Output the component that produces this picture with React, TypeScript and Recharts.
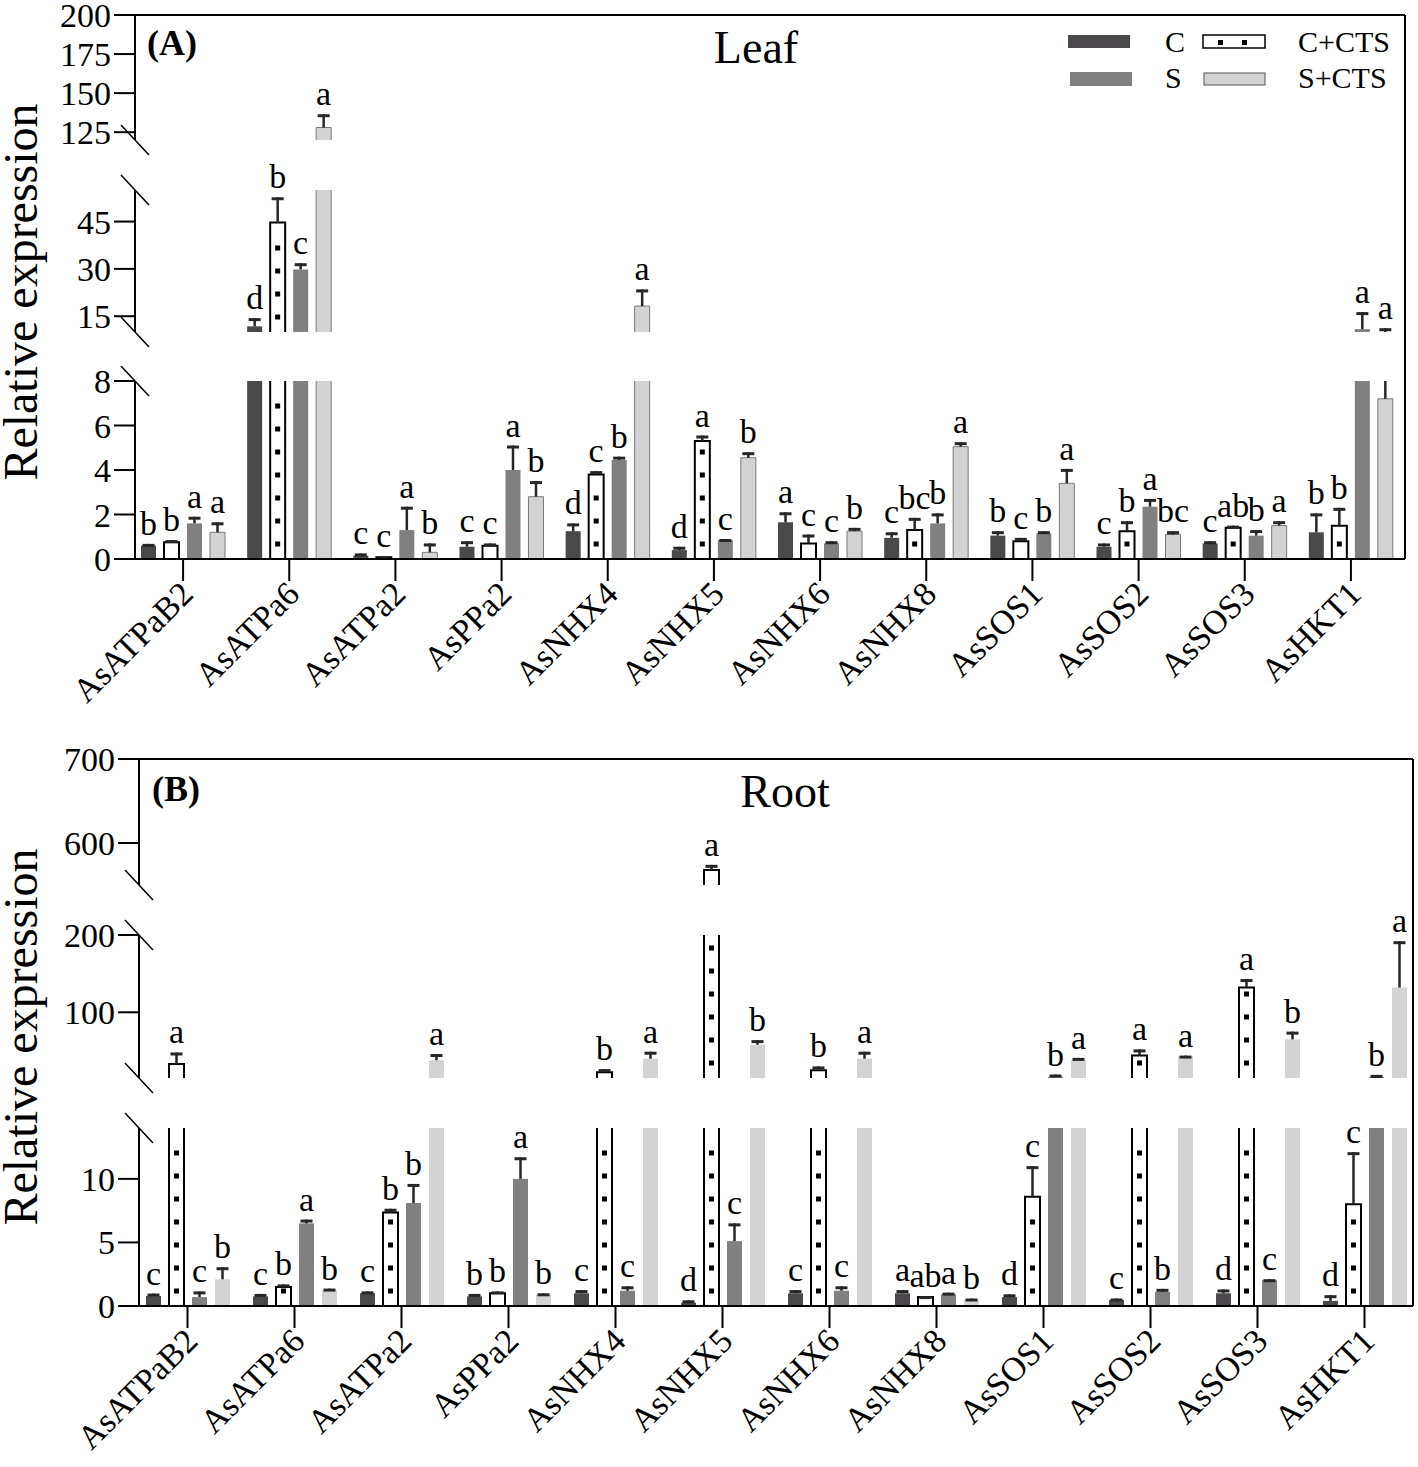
import React from 'react';
import { BarChart, Bar, XAxis, YAxis, LabelList, Legend } from 'recharts';

const W = 1418;
const H = 1467;
const FONT = '"Liberation Serif", "Times New Roman", serif';

// ---- data ----
const genes = ['AsATPaB2', 'AsATPa6', 'AsATPa2', 'AsPPa2', 'AsNHX4', 'AsNHX5', 'AsNHX6', 'AsNHX8', 'AsSOS1', 'AsSOS2', 'AsSOS3', 'AsHKT1'];

// Leaf
const leafC = [0.6, 11.8, 0.15, 0.55, 1.25, 0.4, 1.65, 0.95, 1.05, 0.55, 0.7, 1.2];
const leafCErr = [0.08, 2.6, 0.1, 0.25, 0.35, 0.15, 0.45, 0.25, 0.2, 0.15, 0.1, 0.85];
const leafCSig = ['b', 'd', 'c', 'c', 'd', 'd', 'a', 'c', 'b', 'c', 'c', 'b'];
const leafCC = [0.75, 44.7, 0.08, 0.6, 3.8, 5.3, 0.7, 1.3, 0.8, 1.25, 1.4, 1.5];
const leafCCErr = [0.1, 8, 0.05, 0.1, 0.15, 0.25, 0.4, 0.55, 0.15, 0.45, 0.1, 0.8];
const leafCCSig = ['b', 'b', 'c', 'c', 'c', 'a', 'c', 'bc', 'c', 'b', 'ab', 'b'];
const leafS = [1.6, 29.8, 1.3, 4.0, 4.45, 0.85, 0.7, 1.6, 1.15, 2.35, 1.05, 10.9];
const leafSErr = [0.3, 2, 1.05, 1.1, 0.15, 0.05, 0.1, 0.45, 0.1, 0.35, 0.25, 5.4];
const leafSSig = ['a', 'c', 'a', 'a', 'b', 'c', 'c', 'b', 'b', 'a', 'b', 'a'];
const leafSC = [1.2, 128, 0.3, 2.8, 18.2, 4.55, 1.25, 5.05, 3.4, 1.1, 1.5, 7.2];
const leafSCErr = [0.45, 8.5, 0.4, 0.7, 5.3, 0.25, 0.15, 0.2, 0.65, 0.15, 0.2, 4.0];
const leafSCSig = ['a', 'a', 'b', 'b', 'a', 'b', 'b', 'a', 'a', 'bc', 'a', 'a'];

// Root
const rootC = [0.78, 0.75, 1.0, 0.75, 1.0, 0.25, 1.0, 1.0, 0.7, 0.47, 1.0, 0.4];
const rootCErr = [0.2, 0.2, 0.15, 0.2, 0.25, 0.2, 0.25, 0.25, 0.22, 0.12, 0.3, 0.45];
const rootCSig = ['c', 'c', 'c', 'b', 'c', 'd', 'c', 'a', 'd', 'c', 'd', 'd'];
const rootCC = [33, 1.5, 7.35, 1.0, 22.5, 568, 25, 0.7, 8.6, 44, 132, 8.0];
const rootCCErr = [15, 0.2, 0.3, 0.15, 4, 6, 5, 0.08, 2.4, 8, 11, 4.1];
const rootCCSig = ['a', 'b', 'b', 'b', 'b', 'a', 'b', 'ab', 'c', 'a', 'a', 'c'];
const rootS = [0.7, 6.5, 8.1, 10.0, 1.2, 5.1, 1.2, 0.93, 16.5, 1.1, 2.03, 16.5];
const rootSErr = [0.45, 0.3, 1.5, 1.7, 0.35, 1.4, 0.35, 0.12, 3, 0.25, 0.08, 2.5];
const rootSSig = ['c', 'a', 'b', 'a', 'c', 'c', 'c', 'a', 'b', 'b', 'c', 'b'];
const rootSC = [2.1, 1.25, 38, 0.9, 40, 58, 40, 0.47, 38, 43, 65, 132];
const rootSCErr = [0.95, 0.12, 8, 0.1, 9, 6, 9, 0.12, 3, 1, 10, 60];
const rootSCSig = ['b', 'b', 'a', 'b', 'a', 'b', 'a', 'b', 'a', 'a', 'b', 'a'];

type Series = { key: string; values: number[]; errors: number[]; sig: string[] };

const leafSeries: Series[] = [
  { key: 'c', values: leafC, errors: leafCErr, sig: leafCSig },
  { key: 'cc', values: leafCC, errors: leafCCErr, sig: leafCCSig },
  { key: 's', values: leafS, errors: leafSErr, sig: leafSSig },
  { key: 'sc', values: leafSC, errors: leafSCErr, sig: leafSCSig },
];
const rootSeries: Series[] = [
  { key: 'c', values: rootC, errors: rootCErr, sig: rootCSig },
  { key: 'cc', values: rootCC, errors: rootCCErr, sig: rootCCSig },
  { key: 's', values: rootS, errors: rootSErr, sig: rootSSig },
  { key: 'sc', values: rootSC, errors: rootSCErr, sig: rootSCSig },
];

// ---- layout / style ----
const COLORS: Record<string, string> = { c: '#4a484b', cc: '#ffffff', s: '#808080', sc: '#d3d3d3' };
const ERR = '#262626';

type Seg = { lo: number; hi: number; top: number; bottom: number; ticks: number[] };
type Panel = {
  series: Series[];
  plotLeft: number;
  plotRight: number;
  pad: { left: number; right: number };
  scStroke?: string;
  segments: Seg[];
};

const leafPanel: Panel = {
  series: leafSeries,
  plotLeft: 135,
  plotRight: 1405,
  pad: { left: -5, right: 1 },
  scStroke: '#7a7a7a',
  segments: [
    { lo: 0, hi: 8, top: 381, bottom: 559, ticks: [0, 2, 4, 6, 8] },
    { lo: 10, hi: 55, top: 190, bottom: 332, ticks: [15, 30, 45] },
    { lo: 120, hi: 200, top: 15, bottom: 140, ticks: [125, 150, 175, 200] },
  ],
};

const rootPanel: Panel = {
  series: rootSeries,
  plotLeft: 139,
  plotRight: 1413,
  pad: { left: -5, right: -5 },
  segments: [
    { lo: 0, hi: 14, top: 1128, bottom: 1306, ticks: [0, 5, 10] },
    { lo: 15, hi: 200, top: 935, bottom: 1078, ticks: [100, 200] },
    { lo: 550, hi: 700, top: 759, bottom: 885, ticks: [600, 700] },
  ],
};

// split every series into what is visible inside one axis segment
function buildRows(series: Series[], lo: number, hi: number) {
  return genes.map((gene, i) => {
    const row: any = { gene, base: lo };
    series.forEach((s) => {
      const v = s.values[i];
      const top = v + s.errors[i];
      const lower = Math.min(Math.max(v, lo), hi);
      const upper = Math.min(Math.max(top, lo), hi);
      const inSeg = top > lo && top <= hi;
      row[s.key + '_body'] = Math.max(0, Math.min(v, hi) - lo);
      row[s.key + '_err'] = upper - lower;
      row[s.key + '_open'] = v > hi;
      row[s.key + '_cap'] = inSeg;
      row[s.key + '_sig'] = inSeg ? s.sig[i] : undefined;
    });
    return row;
  });
}

const bodyShape = (key: string, fill: string, stroke?: string, strokeWidth = 1, dotted = false) => (p: any) => {
  const { x, y, width, height, payload } = p;
  if (!(height > 0)) return <g />;
  const open = payload[key + '_open'];
  const bottom = y + height;
  const dots: React.ReactNode[] = [];
  if (dotted) {
    for (let dy = bottom - 15; dy > y + 4; dy -= 23) {
      dots.push(<rect key={dy} x={x + width / 2 - 2.5} y={dy - 2.5} width={5} height={5} fill="#000" />);
    }
  }
  return (
    <g>
      <rect x={x} y={y} width={width} height={height} fill={fill} />
      {stroke && (
        <path
          d={open ? `M${x},${bottom}V${y}M${x + width},${y}V${bottom}` : `M${x},${bottom}V${y}H${x + width}V${bottom}`}
          fill="none"
          stroke={stroke}
          strokeWidth={strokeWidth}
        />
      )}
      {dots}
    </g>
  );
};

const errShape = (key: string) => (p: any) => {
  const { x, y, width, height, payload } = p;
  if (!(height > 0)) return <g />;
  const cx = x + width / 2;
  return (
    <g>
      <line x1={cx} x2={cx} y1={y + height} y2={y} stroke={ERR} strokeWidth={2.5} />
      {payload[key + '_cap'] && <line x1={cx - 6} x2={cx + 6} y1={y + 1.5} y2={y + 1.5} stroke={ERR} strokeWidth={3} />}
    </g>
  );
};

const sigLabel = (p: any) => {
  if (p.value == null || p.value === '') return null;
  const vb = p.viewBox || p;
  const x = (vb.x ?? p.x) + (vb.width ?? p.width) / 2;
  const y = vb.y ?? p.y;
  return (
    <text x={x} y={y - 9} textAnchor="middle" fontSize={34} fontFamily={FONT} fill="#000">
      {p.value}
    </text>
  );
};

const GeneTick = (props: any) => {
  const { x, y, payload } = props;
  return (
    <g transform={`translate(${x + 12},${y + 13})`}>
      <text textAnchor="end" transform="rotate(-45)" fontSize={34} fontFamily={FONT} fill="#000">
        {payload.value}
      </text>
    </g>
  );
};

const LeafLegend = () => (
  <svg width={360} height={80} style={{ fontFamily: FONT }}>
    <rect x={18} y={15} width={62} height={13} fill={COLORS.c} />
    <text x={115} y={32} fontSize={30} fill="#000">C</text>
    <rect x={153} y={15} width={62} height={13} fill="#fff" stroke="#000" strokeWidth={1.5} />
    <rect x={168} y={20} width={5} height={5} fill="#000" />
    <rect x={192} y={20} width={5} height={5} fill="#000" />
    <text x={248} y={32} fontSize={30} fill="#000">C+CTS</text>
    <rect x={20} y={52} width={62} height={14} fill={COLORS.s} />
    <text x={115} y={68} fontSize={30} fill="#000">S</text>
    <rect x={154} y={53} width={61} height={12} fill={COLORS.sc} stroke="#555" strokeWidth={1} />
    <text x={248} y={68} fontSize={30} fill="#000">S+CTS</text>
  </svg>
);

function Segment({ panel, seg, isBottom, legend }: { panel: Panel; seg: Seg; isBottom: boolean; legend?: boolean }) {
  const padTop = Math.min(60, seg.top);
  const xAxisH = isBottom ? 160 : 0;
  const padBottom = isBottom ? 0 : 24;
  const height = seg.bottom - seg.top + padTop + xAxisH + padBottom;
  const rows = buildRows(panel.series, seg.lo, seg.hi);
  return (
    <div style={{ position: 'absolute', left: 0, top: seg.top - padTop }}>
      <BarChart
        width={W}
        height={height}
        data={rows}
        margin={{ top: padTop, right: W - panel.plotRight, bottom: padBottom, left: 0 }}
        barSize={15}
        barGap={8}
      >
        <XAxis
          dataKey="gene"
          hide={!isBottom}
          height={xAxisH || 1}
          padding={panel.pad}
          interval={0}
          tickSize={22}
          tick={<GeneTick />}
          axisLine={{ stroke: '#000', strokeWidth: 2 }}
          tickLine={{ stroke: '#000', strokeWidth: 2 }}
        />
        <YAxis
          type="number"
          domain={[seg.lo, seg.hi]}
          allowDataOverflow
          ticks={seg.ticks}
          interval={0}
          width={panel.plotLeft}
          tickSize={21}
          tickMargin={3}
          axisLine={{ stroke: '#000', strokeWidth: 2 }}
          tickLine={{ stroke: '#000', strokeWidth: 2 }}
          tick={{ fill: '#000', fontSize: 34, fontFamily: FONT }}
        />
        {legend && (
          <Legend
            layout="horizontal"
            verticalAlign="middle"
            align="center"
            content={<LeafLegend />}
            wrapperStyle={{ left: 1050, top: 20, width: 360, height: 80 }}
          />
        )}
        {panel.series.map((s) => {
          const dotted = s.key === 'cc';
          const stroke = dotted ? '#000' : s.key === 'sc' ? panel.scStroke : undefined;
          return [
            <Bar key={s.key + 'base'} dataKey="base" stackId={s.key} fill="transparent" isAnimationActive={false} legendType="none" />,
            <Bar
              key={s.key + 'body'}
              dataKey={s.key + '_body'}
              stackId={s.key}
              fill={COLORS[s.key]}
              shape={bodyShape(s.key, COLORS[s.key], stroke, dotted ? 2 : 1, dotted)}
              isAnimationActive={false}
            />,
            <Bar key={s.key + 'err'} dataKey={s.key + '_err'} stackId={s.key} shape={errShape(s.key)} isAnimationActive={false}>
              <LabelList dataKey={s.key + '_sig'} content={sigLabel} />
            </Bar>,
          ];
        })}
      </BarChart>
    </div>
  );
}

function BreakMarks({ panel }: { panel: Panel }) {
  const ax = panel.plotLeft;
  const ys: number[] = [];
  panel.segments.forEach((s, i) => {
    if (i > 0) ys.push(s.bottom);
    if (i < panel.segments.length - 1) ys.push(s.top);
  });
  return (
    <g stroke="#000" strokeWidth={1.5}>
      {ys.map((y) => (
        <line key={y} x1={ax - 14} y1={y - 15} x2={ax + 14} y2={y + 15} />
      ))}
    </g>
  );
}

function Frame({ panel }: { panel: Panel }) {
  const top = panel.segments[panel.segments.length - 1].top;
  const bottom = panel.segments[0].bottom;
  return (
    <g stroke="#000" strokeWidth={2}>
      <line x1={panel.plotLeft} y1={top} x2={panel.plotRight} y2={top} />
      <line x1={panel.plotRight} y1={top} x2={panel.plotRight} y2={bottom} />
    </g>
  );
}

export default function App() {
  return (
    <div style={{ position: 'absolute', left: 0, top: 0, width: W, height: H, background: '#fff', fontFamily: FONT }}>
      {[leafPanel, rootPanel].map((panel, pi) =>
        panel.segments.map((seg, si) => (
          <Segment
            key={`${pi}-${si}`}
            panel={panel}
            seg={seg}
            isBottom={si === 0}
            legend={pi === 0 && si === panel.segments.length - 1}
          />
        ))
      )}
      <svg width={W} height={H} style={{ position: 'absolute', left: 0, top: 0, pointerEvents: 'none' }}>
        <Frame panel={leafPanel} />
        <Frame panel={rootPanel} />
        <BreakMarks panel={leafPanel} />
        <BreakMarks panel={rootPanel} />
        <text transform="translate(37,292) rotate(-90)" textAnchor="middle" fontSize={48} fontFamily={FONT} fill="#000">
          Relative expression
        </text>
        <text transform="translate(37,1037) rotate(-90)" textAnchor="middle" fontSize={48} fontFamily={FONT} fill="#000">
          Relative expression
        </text>
        <text x={147} y={55} fontSize={36} fontWeight="bold" fontFamily={FONT} fill="#000">(A)</text>
        <text x={756} y={63} textAnchor="middle" fontSize={46} fontFamily={FONT} fill="#000">Leaf</text>
        <text x={152} y={801} fontSize={36} fontWeight="bold" fontFamily={FONT} fill="#000">(B)</text>
        <text x={785} y={807} textAnchor="middle" fontSize={46} fontFamily={FONT} fill="#000">Root</text>
      </svg>
    </div>
  );
}
